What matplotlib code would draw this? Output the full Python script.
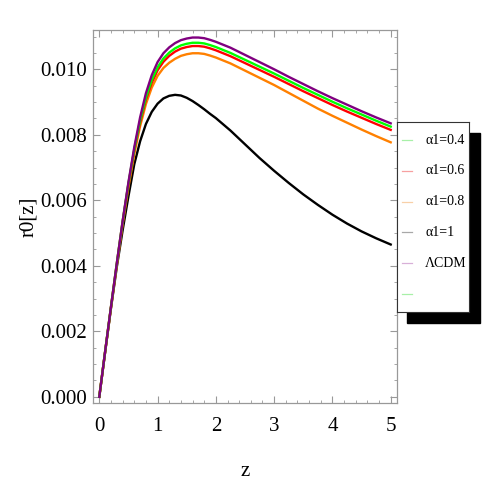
import matplotlib
matplotlib.use("Agg")
import matplotlib.pyplot as plt
from matplotlib.patches import Rectangle
from matplotlib.ticker import MultipleLocator

plt.rcParams['font.family'] = ['Liberation Serif', 'DejaVu Serif']

# values
z = [0, 0.1, 0.2, 0.3, 0.4, 0.5, 0.6, 0.7, 0.8, 0.9, 1.0, 1.1, 1.2, 1.3, 1.4,
     1.5, 1.6, 1.7, 1.8, 1.9, 2.0, 2.25, 2.5, 2.75, 3.0, 3.25, 3.5, 3.75, 4.0,
     4.25, 4.5, 4.75, 5.0]

r0_lcdm = [0, 0.00138, 0.00274, 0.00407, 0.00536, 0.00655, 0.00762, 0.00853, 0.00927,
           0.00982, 0.01022, 0.01049, 0.01067, 0.01080, 0.01089, 0.01094, 0.01097,
           0.01097, 0.01095, 0.01090, 0.01084, 0.01066, 0.01044, 0.01022, 0.01000,
           0.00977, 0.00955, 0.00933, 0.00912, 0.00892, 0.00872, 0.00853, 0.00835]
r0_a04 = [0, 0.00138, 0.00274, 0.00407, 0.00535, 0.00652, 0.00756, 0.00843, 0.00914,
          0.00967, 0.01006, 0.01033, 0.01051, 0.01064, 0.01073, 0.01078, 0.01081,
          0.01081, 0.01079, 0.01074, 0.01068, 0.01050, 0.01029, 0.01008, 0.00987,
          0.00965, 0.00943, 0.00922, 0.00901, 0.00881, 0.00862, 0.00843, 0.00825]
r0_a06 = [0, 0.00138, 0.00274, 0.00406, 0.00534, 0.00649, 0.00752, 0.00837, 0.00907,
          0.00959, 0.00997, 0.01023, 0.01041, 0.01054, 0.01063, 0.01068, 0.01071,
          0.01071, 0.01069, 0.01064, 0.01058, 0.01040, 0.01019, 0.00998, 0.00977,
          0.00955, 0.00933, 0.00912, 0.00891, 0.00871, 0.00852, 0.00833, 0.00815]
r0_a08 = [0, 0.00137, 0.00271, 0.00401, 0.00526, 0.00640, 0.00741, 0.00826, 0.00894,
          0.00944, 0.00980, 0.01004, 0.01020, 0.01032, 0.01041, 0.01046, 0.01049,
          0.01049, 0.01047, 0.01042, 0.01036, 0.01018, 0.00996, 0.00974, 0.00952,
          0.00928, 0.00904, 0.00880, 0.00858, 0.00837, 0.00816, 0.00796, 0.00777]
r0_a1 = [0, 0.00136, 0.00270, 0.00396, 0.00508, 0.00612, 0.00710, 0.00780, 0.00833,
         0.00870, 0.00895, 0.00911, 0.00919, 0.00922, 0.00920, 0.00913, 0.00903,
         0.00891, 0.00878, 0.00864, 0.00851, 0.00813, 0.00771, 0.00729, 0.00690,
         0.00653, 0.00618, 0.00586, 0.00556, 0.00529, 0.00505, 0.00484, 0.00465]

labels = ['α1=0.4', 'α1=0.6', 'α1=0.8', 'α1=1', 'ΛCDM', '']
legend_colors = ['#a8f0a8', '#f7a0a0', '#f8d0a8', '#a8a8a8', '#d8b0d8', '#a8f0a8']

fig = plt.figure(figsize=(4.91, 4.91), dpi=100)
ax = fig.add_axes([93/491, 1 - 403/491, 304/491, 373/491])

ax.plot(z, r0_a1, color='black', lw=1.7)
ax.plot(z, r0_a08, color='#ff8000', lw=1.7)
ax.plot(z, r0_a06, color='#ff0000', lw=1.7)
ax.plot(z, r0_a04, color='#00ff00', lw=1.7)
ax.plot(z, r0_lcdm, color='#800080', lw=1.7)

ax.set_xlim(-0.108, 5.108)
ax.set_ylim(-0.00019, 0.0112)
ax.xaxis.set_major_locator(MultipleLocator(1))
ax.xaxis.set_minor_locator(MultipleLocator(0.2))
ax.yaxis.set_major_locator(MultipleLocator(0.002))
ax.yaxis.set_minor_locator(MultipleLocator(0.0005))
ax.yaxis.set_major_formatter(plt.FuncFormatter(lambda v, p: f"{v:.3f}"))
ax.tick_params(which='both', direction='in', top=True, right=True, color='#999999')
ax.tick_params(which='major', length=5, width=0.8, labelsize=15, pad=4)
ax.tick_params(which='minor', length=2.5, width=0.6)
ax.tick_params(axis='x', which='major', pad=10)
for s in ax.spines.values():
    s.set_color('#999999')
    s.set_linewidth(0.9)

ax.set_xlabel('z', fontsize=15, labelpad=19)
ax.set_ylabel('r0[z]', fontsize=15, labelpad=2)

# legend box with a hard black drop shadow
fig.add_artist(Rectangle((407/491, 1 - 323/491), 73/491, 190/491,
                         transform=fig.transFigure, color='black', zorder=5))
lax = fig.add_axes([397/491, 1 - 312/491, 72/491, 190/491], zorder=6)
lax.set_xlim(0, 72)
lax.set_ylim(190, 0)
lax.set_xticks([])
lax.set_yticks([])
for s in lax.spines.values():
    s.set_color('#333333')
    s.set_linewidth(0.8)
for i, (lab, col) in enumerate(zip(labels, legend_colors)):
    yy = 18 + 30.8 * i
    lax.plot([5, 15], [yy, yy], color=col, lw=0.9)
    lax.text(28, yy, lab, fontsize=10, va='center', ha='left')

fig.savefig('out.png', dpi=100)
